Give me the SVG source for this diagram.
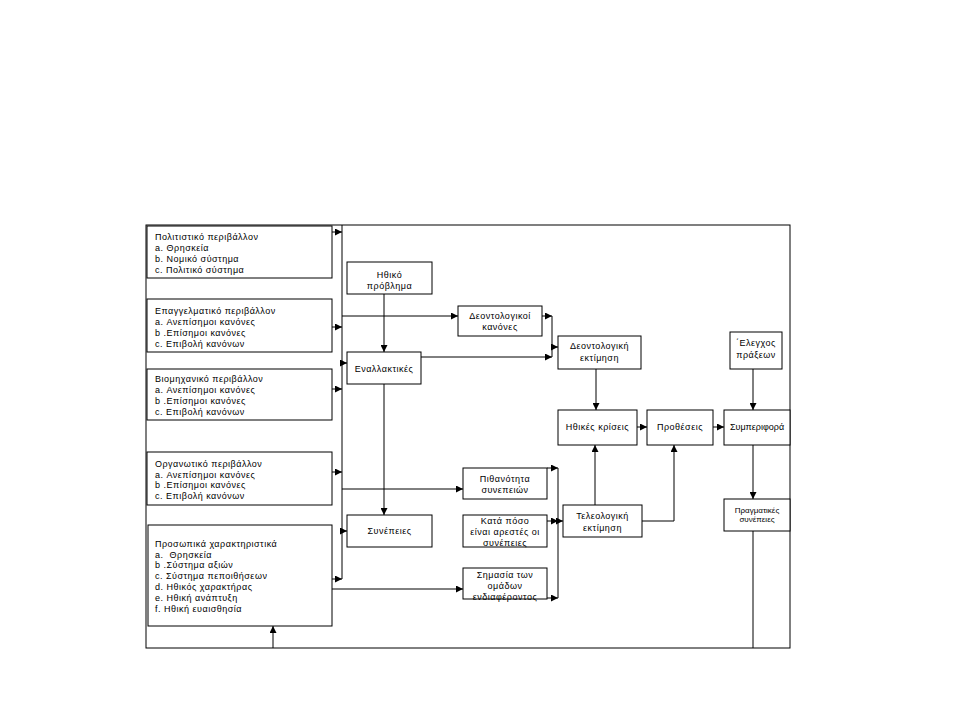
<svg xmlns="http://www.w3.org/2000/svg" width="960" height="720" viewBox="0 0 960 720">
<defs>
<marker id="ah" markerWidth="7" markerHeight="7" refX="7" refY="3.5" orient="auto" markerUnits="userSpaceOnUse">
<path d="M0,0 L7,3.5 L0,7 z" fill="#000"/>
</marker>
<style>
.b{fill:#fff;stroke:#000;stroke-width:1}
.c{fill:none;stroke:#000;stroke-width:1}
.a{fill:none;stroke:#000;stroke-width:1;marker-end:url(#ah)}
text{font-family:"Liberation Sans",Arial,sans-serif;font-size:9px;fill:#000;letter-spacing:0.5px}
.m{text-anchor:middle}
.s{font-size:8px;letter-spacing:0}
.n{letter-spacing:0}
</style>
</defs>
<rect width="960" height="720" fill="#fff"/>
<rect x="146" y="225" width="644" height="423" class="c"/>

<g id="connectors">
<line x1="342" y1="225" x2="342" y2="579" class="c"/>
<line x1="332" y1="232" x2="342" y2="232" class="a"/>
<line x1="332" y1="327" x2="342" y2="327" class="a"/>
<line x1="332" y1="389" x2="342" y2="389" class="a"/>
<line x1="332" y1="472" x2="342" y2="472" class="a"/>
<line x1="332" y1="579" x2="342" y2="579" class="a"/>
<line x1="342" y1="363" x2="347" y2="363" class="a"/>
<line x1="342" y1="531" x2="347" y2="531" class="a"/>
<line x1="342" y1="316" x2="458" y2="316" class="a"/>
<line x1="342" y1="489" x2="463" y2="489" class="a"/>
<line x1="332" y1="589" x2="463" y2="589" class="a"/>
<line x1="384" y1="294" x2="384" y2="352" class="a"/>
<line x1="384" y1="384" x2="384" y2="515" class="a"/>
<line x1="421" y1="357" x2="552" y2="357" class="a"/>
<line x1="542" y1="316" x2="552" y2="316" class="a"/>
<line x1="552" y1="316" x2="552" y2="357" class="c"/>
<line x1="552" y1="347" x2="558" y2="347" class="a"/>
<line x1="596" y1="369" x2="596" y2="410" class="a"/>
<line x1="637" y1="427" x2="647" y2="427" class="a"/>
<line x1="713" y1="427" x2="724" y2="427" class="a"/>
<line x1="753" y1="369" x2="753" y2="410" class="a"/>
<line x1="753" y1="445" x2="753" y2="499" class="a"/>
<line x1="753" y1="531" x2="753" y2="648" class="c"/>
<line x1="273" y1="648" x2="273" y2="626" class="a"/>
<line x1="547" y1="468" x2="558" y2="468" class="a"/>
<line x1="558" y1="468" x2="558" y2="598" class="c"/>
<line x1="547" y1="521" x2="558" y2="521" class="a"/>
<line x1="556" y1="521" x2="563" y2="521" class="a"/>
<line x1="547" y1="598" x2="558" y2="598" class="a"/>
<line x1="595" y1="505" x2="595" y2="445" class="a"/>
<polyline points="642,521 674,521 674,445" class="a"/>
</g>

<g id="n-politistiko">
<rect x="147" y="226" width="185" height="52" class="b"/>
<text x="155" y="239.5">Πολιτιστικό περιβάλλον</text>
<text x="155" y="250.5">a. Θρησκεία</text>
<text x="155" y="261.5">b. Νομικό σύστημα</text>
<text x="155" y="272.5">c. Πολιτικό σύστημα</text>
</g>
<g id="n-epaggelmatiko">
<rect x="147" y="299" width="185" height="53" class="b"/>
<text x="155" y="313.5">Επαγγελματικό περιβάλλον</text>
<text x="155" y="324.5">a. Ανεπίσημοι κανόνες</text>
<text x="155" y="335.5">b .Επίσημοι κανόνες</text>
<text x="155" y="346.5">c. Επιβολή κανόνων</text>
</g>
<g id="n-viomichaniko">
<rect x="147" y="369" width="185" height="51" class="b"/>
<text x="155" y="382">Βιομηχανικό περιβάλλον</text>
<text x="155" y="393">a. Ανεπίσημοι κανόνες</text>
<text x="155" y="404">b .Επίσημοι κανόνες</text>
<text x="155" y="415">c. Επιβολή κανόνων</text>
</g>
<g id="n-organotiko">
<rect x="147" y="452" width="185" height="53" class="b"/>
<text x="155" y="466.5">Οργανωτικό περιβάλλον</text>
<text x="155" y="477.5">a. Ανεπίσημοι κανόνες</text>
<text x="155" y="488">b .Επίσημοι κανόνες</text>
<text x="155" y="499">c. Επιβολή κανόνων</text>
</g>
<g id="n-prosopika">
<rect x="148" y="525" width="184" height="101" class="b"/>
<text x="155" y="546.5">Προσωπικά χαρακτηριστικά</text>
<text x="155" y="557.5" xml:space="preserve">a.  Θρησκεία</text>
<text x="155" y="568">b .Σύστημα αξιών</text>
<text x="155" y="578.5">c. Σύστημα πεποιθήσεων</text>
<text x="155" y="589.5">d. Ηθικός χαρακτήρας</text>
<text x="155" y="600.5">e. Ηθική ανάπτυξη</text>
<text x="155" y="611.5">f. Ηθική ευαισθησία</text>
</g>

<g id="n-ithiko-provlima">
<rect x="347" y="262" width="85" height="32" class="b"/>
<text x="389.5" y="278" class="m">Ηθικό</text>
<text x="389.5" y="289" class="m">πρόβλημα</text>
</g>
<g id="n-enallaktikes">
<rect x="347" y="352" width="74" height="32" class="b"/>
<text x="384" y="371.5" class="m">Εναλλακτικές</text>
</g>
<g id="n-synepeies">
<rect x="347" y="515" width="85" height="32" class="b"/>
<text x="389.5" y="534" class="m">Συνέπειες</text>
</g>
<g id="n-deont-kanones">
<rect x="458" y="306" width="84" height="30" class="b"/>
<text x="500" y="319" class="m">Δεοντολογικοί</text>
<text x="500" y="330" class="m">κανόνες</text>
</g>
<g id="n-pithanotita">
<rect x="463" y="468" width="84" height="31" class="b"/>
<text x="505" y="482" class="m">Πιθανότητα</text>
<text x="505" y="493" class="m">συνεπειών</text>
</g>
<g id="n-kata-poso">
<rect x="463" y="515" width="84" height="32" class="b"/>
<text x="505" y="524" class="m">Κατά πόσο</text>
<text x="505" y="535" class="m">είναι αρεστές οι</text>
<text x="505" y="546" class="m">συνέπειες</text>
</g>
<g id="n-simasia">
<rect x="463" y="568" width="84" height="31" class="b"/>
<text x="505" y="578" class="m">Σημασία των</text>
<text x="505" y="589" class="m">ομάδων</text>
<text x="505" y="600" class="m">ενδιαφέροντος</text>
</g>
<g id="n-deont-ektimisi">
<rect x="558" y="336" width="83" height="33" class="b"/>
<text x="599.5" y="349" class="m">Δεοντολογική</text>
<text x="599.5" y="361" class="m">εκτίμηση</text>
</g>
<g id="n-ithikes-kriseis">
<rect x="558" y="410" width="79" height="35" class="b"/>
<text x="597.5" y="430" class="m">Ηθικές κρίσεις</text>
</g>
<g id="n-proheseis">
<rect x="647" y="410" width="66" height="35" class="b"/>
<text x="680" y="430" class="m">Προθέσεις</text>
</g>
<g id="n-symperifora">
<rect x="724" y="410" width="66" height="35" class="b"/>
<text x="757" y="430" class="m n">Συμπεριφορά</text>
</g>
<g id="n-elegxos">
<rect x="730" y="332" width="52" height="37" class="b"/>
<text x="756" y="346" class="m">΄Ελεγχος</text>
<text x="756" y="358" class="m">πράξεων</text>
</g>
<g id="n-teleologiki">
<rect x="563" y="505" width="79" height="32" class="b"/>
<text x="602.5" y="519" class="m">Τελεολογική</text>
<text x="602.5" y="531" class="m">εκτίμηση</text>
</g>
<g id="n-pragmatikes">
<rect x="724" y="499" width="66" height="32" class="b"/>
<text x="757" y="513" class="m s">Πραγματικές</text>
<text x="757" y="522" class="m s">συνέπειες</text>
</g>
</svg>
